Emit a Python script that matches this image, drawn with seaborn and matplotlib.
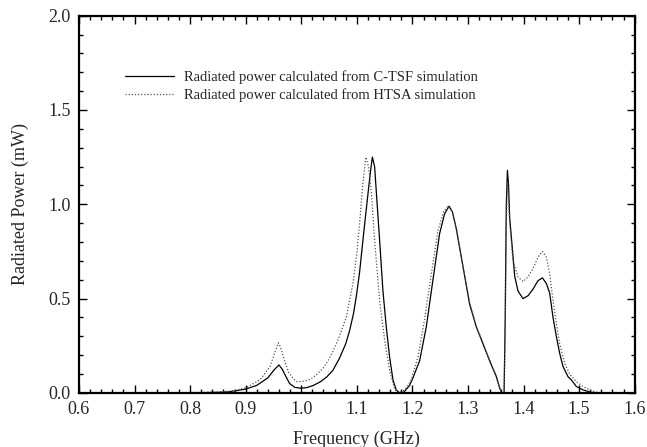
import pandas as pd
import matplotlib
matplotlib.use("Agg")
import matplotlib.pyplot as plt
from matplotlib.ticker import MultipleLocator
import seaborn as sns

# C-TSF simulation (solid)
freq_ctsf = [0.60, 0.80, 0.85, 0.87, 0.90, 0.92, 0.94, 0.952, 0.96, 0.966, 0.971, 0.979,
             0.988, 0.998, 1.010, 1.022, 1.035, 1.046, 1.057, 1.069, 1.080, 1.087, 1.094,
             1.099, 1.105, 1.111, 1.118, 1.124, 1.128, 1.132, 1.135, 1.141, 1.147, 1.153,
             1.159, 1.165, 1.171, 1.177, 1.185, 1.195, 1.201, 1.213, 1.225, 1.237, 1.249,
             1.258, 1.266, 1.272, 1.279, 1.291, 1.303, 1.315, 1.327, 1.339, 1.351, 1.357,
             1.361, 1.365, 1.367, 1.368, 1.369, 1.371, 1.373, 1.375, 1.380, 1.384, 1.390,
             1.399, 1.408, 1.417, 1.426, 1.434, 1.441, 1.447, 1.453, 1.459, 1.465, 1.471,
             1.480, 1.486, 1.495, 1.507, 1.519, 1.530, 1.60]
power_ctsf = [0.0, 0.0, 0.003, 0.006, 0.02, 0.04, 0.08, 0.125, 0.148, 0.125, 0.095, 0.05,
              0.03, 0.025, 0.028, 0.04, 0.06, 0.085, 0.12, 0.185, 0.26, 0.33, 0.42,
              0.51, 0.64, 0.81, 1.0, 1.16, 1.25, 1.2, 1.07, 0.81, 0.54, 0.35,
              0.19, 0.07, 0.015, 0.0, 0.005, 0.04, 0.08, 0.17, 0.35, 0.60, 0.845,
              0.95, 0.99, 0.96, 0.87, 0.67, 0.47, 0.35, 0.26, 0.17, 0.086, 0.025,
              0.0, 0.0, 0.4, 0.72, 1.0, 1.18, 1.1, 0.93, 0.76, 0.62, 0.54,
              0.50, 0.515, 0.55, 0.595, 0.61, 0.58, 0.53, 0.40, 0.30, 0.21, 0.14,
              0.086, 0.069, 0.034, 0.016, 0.005, 0.0, 0.0]

# HTSA simulation (dotted)
freq_htsa = [0.60, 0.80, 0.85, 0.878, 0.902, 0.926, 0.944, 0.953, 0.959, 0.963, 0.968, 0.977,
             0.986, 0.992, 1.000, 1.009, 1.018, 1.027, 1.039, 1.048, 1.057, 1.066, 1.081,
             1.093, 1.100, 1.105, 1.110, 1.116, 1.121, 1.126, 1.132, 1.141, 1.150, 1.159,
             1.168, 1.175, 1.183, 1.190, 1.198, 1.210, 1.222, 1.234, 1.246, 1.256, 1.264,
             1.272, 1.279, 1.291, 1.303, 1.315, 1.327, 1.339, 1.351, 1.357, 1.361, 1.365,
             1.367, 1.369, 1.371, 1.373, 1.375, 1.381, 1.390, 1.399, 1.408, 1.417, 1.426,
             1.434, 1.441, 1.447, 1.453, 1.459, 1.465, 1.474, 1.483, 1.495, 1.507, 1.519,
             1.530, 1.540, 1.60]
power_htsa = [0.0, 0.002, 0.005, 0.01, 0.03, 0.07, 0.14, 0.22, 0.266, 0.24, 0.19, 0.11,
              0.074, 0.06, 0.06, 0.065, 0.075, 0.095, 0.13, 0.17, 0.22, 0.28, 0.40,
              0.58, 0.74, 0.90, 1.08, 1.25, 1.2, 1.07, 0.81, 0.49, 0.28, 0.12,
              0.02, 0.0, 0.01, 0.03, 0.07, 0.19, 0.39, 0.63, 0.86, 0.96, 0.99,
              0.96, 0.87, 0.67, 0.48, 0.355, 0.265, 0.175, 0.09, 0.03, 0.0, 0.0,
              0.35, 0.9, 1.12, 1.05, 0.90, 0.70, 0.615, 0.59, 0.615, 0.66, 0.72,
              0.75, 0.72, 0.63, 0.49, 0.37, 0.26, 0.157, 0.10, 0.06, 0.034, 0.016,
              0.005, 0.0, 0.0]

label_ctsf = "Radiated power calculated from C-TSF simulation"
label_htsa = "Radiated power calculated from HTSA simulation"

df_ctsf = pd.DataFrame({"freq": freq_ctsf, "power": power_ctsf})
df_htsa = pd.DataFrame({"freq": freq_htsa, "power": power_htsa})

sns.set_style("ticks")
plt.rcParams["font.family"] = ["Liberation Serif", "DejaVu Serif"]

fig = plt.figure(figsize=(6.47, 4.47), dpi=100)
ax = fig.add_axes([0.122, 0.121, 0.859, 0.844])

sns.lineplot(data=df_ctsf, x="freq", y="power", ax=ax, color="black", linewidth=0.9,
             estimator=None, label=label_ctsf)
sns.lineplot(data=df_htsa, x="freq", y="power", ax=ax, color="#555555", linewidth=0.9,
             linestyle=(0, (1, 1.5)), estimator=None, label=label_htsa)

ax.set_xlim(0.6, 1.6)
ax.set_ylim(0, 2.0)
ax.xaxis.set_major_locator(MultipleLocator(0.1))
ax.xaxis.set_minor_locator(MultipleLocator(0.02))
ax.yaxis.set_major_locator(MultipleLocator(0.5))
ax.yaxis.set_minor_locator(MultipleLocator(0.1))
ax.xaxis.set_major_formatter(plt.FormatStrFormatter("%.1f"))
ax.yaxis.set_major_formatter(plt.FormatStrFormatter("%.1f"))
ax.tick_params(which="both", direction="in", top=True, right=True, labelsize=13, width=1, color="black")
ax.tick_params(which="major", length=6, pad=6)
ax.tick_params(which="minor", length=3)
for s in ax.spines.values():
    s.set_linewidth(1.6)
    s.set_color("black")

ax.set_xlabel("Frequency (GHz)", fontsize=13, labelpad=9)
ax.set_ylabel("Radiated Power (mW)", fontsize=13, labelpad=14)

ax.legend(loc="upper left", bbox_to_anchor=(0.06, 0.89), frameon=False, fontsize=10.5,
          handlelength=3.3, handletextpad=0.7, labelspacing=0.3)

fig.savefig("out.png", dpi=100)
